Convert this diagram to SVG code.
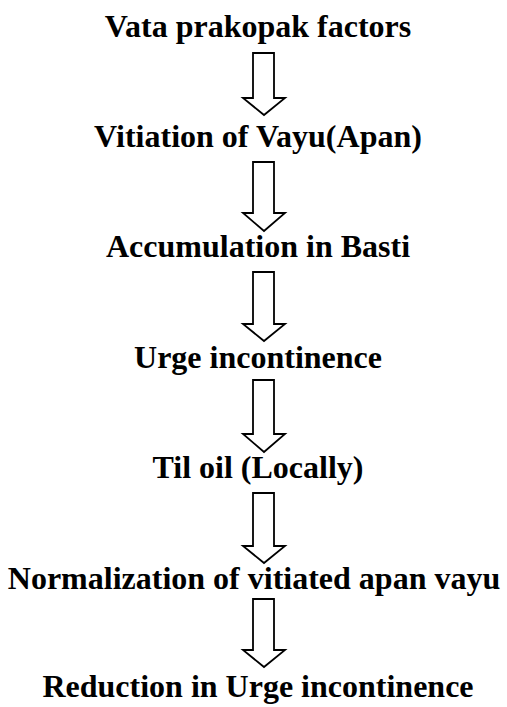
<svg xmlns="http://www.w3.org/2000/svg" width="507" height="707" viewBox="0 0 507 707">
<style>
text{font-family:'Liberation Serif','DejaVu Serif',serif;font-weight:700;font-size:32px;fill:#000;text-anchor:middle}
.a{fill:#fff;stroke:#000;stroke-width:1.8;stroke-linejoin:miter}
</style>
<rect width="507" height="707" fill="#fff"/>
<g id="connectors">
<path class="a" d="M253,53 H274 V98 H285 L264,115 L243,98 H253 Z"/>
<path class="a" d="M253,162 H274 V213 H285 L264,231 L243,213 H253 Z"/>
<path class="a" d="M253,272 H274 V324 H285 L264,341 L243,324 H253 Z"/>
<path class="a" d="M253,380 H274 V434 H285 L264,452 L243,434 H253 Z"/>
<path class="a" d="M253,493 H274 V546 H285 L264,563 L243,546 H253 Z"/>
<path class="a" d="M253,599 H274 V650 H285 L264,667 L243,650 H253 Z"/>
</g>
<g id="n1"><text x="258" y="37" font-family="Liberation Serif, serif">Vata prakopak factors</text></g>
<g id="n2"><text x="258" y="147" font-family="Liberation Serif, serif">Vitiation of Vayu(Apan)</text></g>
<g id="n3"><text x="258" y="257" font-family="Liberation Serif, serif">Accumulation in Basti</text></g>
<g id="n4"><text x="258" y="368" font-family="Liberation Serif, serif">Urge incontinence</text></g>
<g id="n5"><text x="258" y="478" font-family="Liberation Serif, serif">Til oil (Locally)</text></g>
<g id="n6"><text x="254" y="589" font-family="Liberation Serif, serif">Normalization of vitiated apan vayu</text></g>
<g id="n7"><text x="258" y="697" font-family="Liberation Serif, serif">Reduction in Urge incontinence</text></g>
</svg>
